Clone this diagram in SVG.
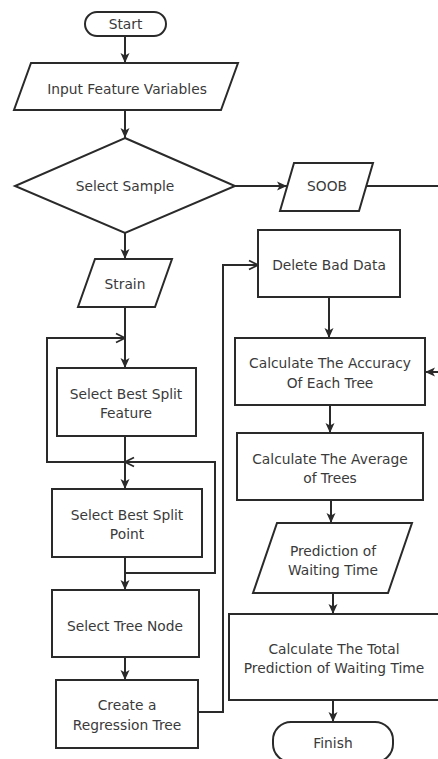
<svg xmlns="http://www.w3.org/2000/svg" width="438" height="759" viewBox="0 0 438 759">
<defs>
<style>
.n{fill:#fff;stroke:#2a2a2a;stroke-width:2}
.t{font-family:"DejaVu Sans",Verdana,sans-serif;font-size:13.8px;fill:#3a3a3a;text-anchor:middle}
.c{fill:none;stroke:#2a2a2a;stroke-width:2}
.a{marker-end:url(#ah)}
.o{marker-end:url(#oh)}
</style>
<marker id="ah" markerUnits="userSpaceOnUse" markerWidth="12" markerHeight="12" viewBox="0 0 12 12" refX="11" refY="6" orient="auto">
<path d="M1,1.5 L11,6 L1,10.5 L3.5,6 z" fill="#2a2a2a"/>
</marker>
<marker id="oh" markerUnits="userSpaceOnUse" markerWidth="12" markerHeight="12" viewBox="0 0 12 12" refX="11" refY="6" orient="auto">
<path d="M2,1.5 L11,6 L2,10.5" fill="none" stroke="#2a2a2a" stroke-width="1.8"/>
</marker>
</defs>
<rect width="438" height="759" fill="#fff"/>
<g id="connectors">
<path class="c a" d="M125,36 V63"/>
<path class="c a" d="M125,110 V138"/>
<path class="c a" d="M235,186 H287"/>
<path class="c" d="M366,186 H440"/>
<path class="c a" d="M440,372 H425"/>
<path class="c a" d="M125,233 V259"/>
<path class="c a" d="M125,307 V368"/>
<path class="c a" d="M125,436 V489"/>
<path class="c o" d="M125,462 H47 V338 H125"/>
<path class="c a" d="M125,557 V590"/>
<path class="c o" d="M125,573 H215 V462 H125"/>
<path class="c a" d="M125,657 V680"/>
<path class="c o" d="M198,712 H223 V265 H258"/>
<path class="c a" d="M329,297 V338"/>
<path class="c a" d="M330,405 V433"/>
<path class="c a" d="M331,500 V523"/>
<path class="c a" d="M333,593 V614"/>
<path class="c a" d="M333,700 V722"/>
</g>
<g id="start"><rect class="n" x="85" y="12" width="81" height="24" rx="12"/><text class="t" x="125.5" y="29">Start</text></g>
<g id="input"><polygon class="n" points="31,63 238,63 221,110 14,110"/><text class="t" x="127" y="94">Input Feature Variables</text></g>
<g id="select-sample"><polygon class="n" points="125,138 235,186 125,233 15,186"/><text class="t" x="125" y="191">Select Sample</text></g>
<g id="soob"><polygon class="n" points="294,163 373,163 359,211 280,211"/><text class="t" x="327" y="191">SOOB</text></g>
<g id="strain"><polygon class="n" points="95,259 172,259 155,307 78,307"/><text class="t" x="125" y="289">Strain</text></g>
<g id="split-feature"><rect class="n" x="57" y="368" width="139" height="68"/><text class="t" x="126" y="399">Select Best Split</text><text class="t" x="126" y="418">Feature</text></g>
<g id="split-point"><rect class="n" x="52" y="489" width="150" height="68"/><text class="t" x="127" y="520">Select Best Split</text><text class="t" x="127" y="539">Point</text></g>
<g id="tree-node"><rect class="n" x="52" y="590" width="147" height="67"/><text class="t" x="125" y="631">Select Tree Node</text></g>
<g id="regression-tree"><rect class="n" x="56" y="680" width="142" height="68"/><text class="t" x="127" y="710">Create a</text><text class="t" x="127" y="730">Regression Tree</text></g>
<g id="delete-bad-data"><rect class="n" x="258" y="230" width="142" height="67"/><text class="t" x="329" y="270">Delete Bad Data</text></g>
<g id="accuracy"><rect class="n" x="235" y="338" width="190" height="67"/><text class="t" x="330" y="368">Calculate The Accuracy</text><text class="t" x="330" y="388">Of Each Tree</text></g>
<g id="average"><rect class="n" x="237" y="433" width="186" height="67"/><text class="t" x="330" y="464">Calculate The Average</text><text class="t" x="330" y="483">of Trees</text></g>
<g id="prediction"><polygon class="n" points="277,523 412,523 388,593 253,593"/><text class="t" x="333" y="556">Prediction of</text><text class="t" x="333" y="575">Waiting Time</text></g>
<g id="total"><rect class="n" x="229" y="614" width="212" height="86"/><text class="t" x="334" y="654">Calculate The Total</text><text class="t" x="334" y="673">Prediction of Waiting Time</text></g>
<g id="finish"><rect class="n" x="273" y="722" width="120" height="40" rx="18"/><text class="t" x="333" y="748">Finish</text></g>
</svg>
